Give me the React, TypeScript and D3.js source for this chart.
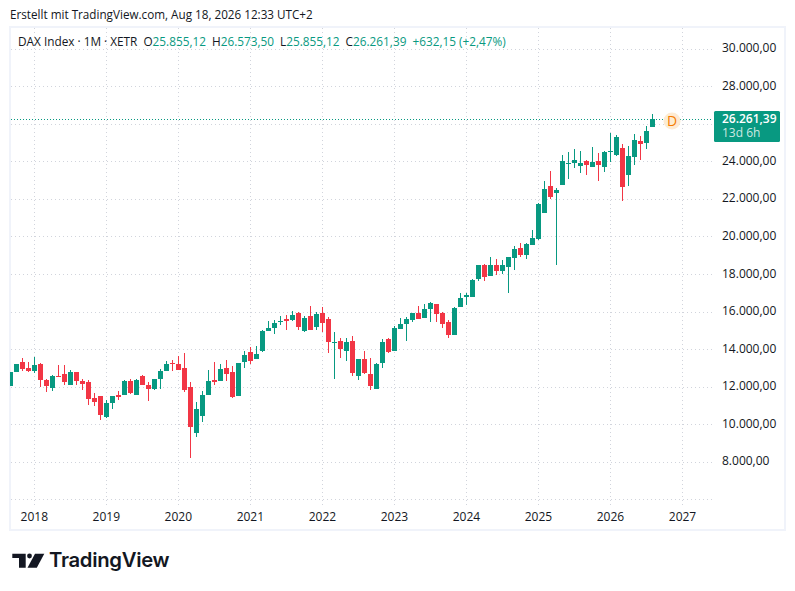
import React from "react";
import * as d3 from "d3";

// Monthly candles, Sep 2017 to Aug 2026
const startYear = 2017;
const startMonth = 8;
const opens = [12063,12808,13341,13021,12862,13234,12382,11956,12595,12702,12116,12808,12329,12276,11424,11530,10412,11157,11583,11583,
  12329,11584,12595,12116,11903,12436,12862,13288,13234,13021,12010,9560,10466,11584,12382,12329,13021,12808,11530,13341,13874,13501,
  13927,14992,15152,15471,15631,15578,15950,14992,15791,15205,15950,15631,14353,14460,13927,14460,12596,13501,12702,11904,13288,14566,13927,
  15098,15365,15578,15950,15684,16163,16430,15950,15471,14779,16270,16802,16802,17761,18506,17920,18506,18187,18400,18879,19412,19039,19571,
  19890,21275,22712,22340,22766,23902,23937,23777,24044,23724,24044,23724,24541,24363,24736,23298,24257,25109,25002,25855.12];
const highs = [12808,13234,13554,13341,13625,13288,12436,12649,13181,13181,12915,12808,12436,12382,11690,11530,11317,11530,11796,12382,
  12436,12436,12649,12276,12436,12968,13394,13447,13660,13820,12276,11211,11797,12915,13341,13234,13447,13128,13288,13927,14140,14193,
  15045,15524,15578,15791,15844,16057,16004,15791,16323,16004,16270,15737,14939,14619,14619,14726,13501,13927,13554,13288,14566,14619,15258,
  15684,15737,15950,16323,16430,16536,16430,16004,15578,16270,17015,17015,17761,18506,18560,18932,18826,18772,18932,19518,19678,19678,20370,
  21807,22979,23511,22606,24363,24523,24683,24576,24097,24789,24470,24576,25535,25428,24949,24842,25482,25375,25907,26573.5];
const lows = [12063,12808,12862,12808,12755,12010,11743,11796,12542,12116,12116,12116,11850,11051,10998,10252,10358,10838,11317,11583,
  11637,11584,12116,11264,11850,11903,12862,12862,12915,11744,8229,9347,10146,11584,12116,12329,12329,11424,11530,13021,13234,13501,
  13874,14992,14832,15311,15045,15524,15045,14939,15045,15045,14939,13821,12436,13554,13394,12596,12383,12702,11850,11904,13022,13821,13927,
  15098,14459,15471,15631,15684,15471,15471,15152,14619,14779,16270,16376,16802,17654,17654,17920,17974,18027,17015,18240,18932,18826,19571,
  19837,21275,22020,18506,22766,23085,23671,23405,23298,23724,22979,23458,23990,24310,21914,22712,23830,24097,24683,25855.12];
const closes = [12808,13234,12968,12862,13181,12382,12063,12595,12542,12276,12808,12329,12169,11370,11210,10518,11157,11530,11477,12329,
  11690,12382,12116,11903,12436,12862,13234,13234,12915,11850,9880,10838,11584,12329,12276,12968,12702,11477,13288,13714,13394,13767,
  14992,15152,15418,15524,15524,15844,15205,15684,15045,15897,15418,14406,14406,14033,14406,12755,13501,12755,12063,13235,14406,13874,15152,
  15365,15631,15950,15631,16163,16483,15897,15365,14779,16216,16749,16909,17708,18506,17867,18506,18187,18506,18932,19358,19039,19624,19944,
  21754,22553,22127,22500,24044,23937,24097,23937,23830,23990,23830,24523,24576,25322,22659,24310,25162,24949,25641,26261.39];

const yearLabels = ["2018","2019","2020","2021","2022","2023","2024","2025","2026","2027"];
const priceTicks = [30000,28000,24000,22000,20000,18000,16000,14000,12000,10000,8000];
const gridPrices = [30000,28000,26000,24000,22000,20000,18000,16000,14000,12000,10000,8000,6000];

const UP = "#089981";
const DOWN = "#F23645";
const TEXT = "#131722";
const GRID = "#d1d4dc";
const FONT = "'Open Sans', sans-serif";
const deFormat = (v: number) => d3.format(",.2f")(v).replace(/,/g, "#").replace(".", ",").replace(/#/g, ".");

export default function App() {
  const y = d3.scaleLinear().domain([8000, 26000]).range([462.3, 124.3]);
  const t = d3.scaleLinear()
    .domain([2018 * 12, 2027 * 12])
    .range([34.3, 682.5]);
  const monthX = (i: number) => t(startYear * 12 + startMonth + i);
  const crisp = (v: number) => Math.floor(v) + 0.5;
  const bodyW = 5;
  const last = closes[closes.length - 1];
  const lastY = crisp(y(last));

  return (
    <svg width={795} height={591} style={{ position: "absolute", left: 0, top: 0, background: "#fff" }} fontFamily={FONT}>
      <defs>
        <clipPath id="plot"><rect x={10} y={28} width={703} height={480} /></clipPath>
      </defs>
      <text x={10} y={19} fontSize={11.7} fill={TEXT}>Erstellt mit TradingView.com, Aug 18, 2026 12:33 UTC+2</text>
      <rect x={10} y={27} width={775} height={503} fill="#fff" stroke="#f0f3fa" strokeWidth={2} />

      <g stroke={GRID} strokeWidth={1} strokeDasharray="1 3">
        {gridPrices.map(p => <line key={p} x1={11} x2={713} y1={crisp(y(p))} y2={crisp(y(p))} />)}
        {yearLabels.map(l => <line key={l} x1={crisp(t(+l * 12))} x2={crisp(t(+l * 12))} y1={28} y2={505} />)}
      </g>

      <line x1={11} x2={713} y1={lastY} y2={lastY} stroke={UP} strokeDasharray="1 2" />

      <g clipPath="url(#plot)" shapeRendering="crispEdges">
        {opens.map((o, i) => {
          const c = closes[i];
          const col = c >= o ? UP : DOWN;
          const cx = Math.floor(monthX(i));
          const top = Math.round(y(Math.max(o, c)));
          const bot = Math.round(y(Math.min(o, c)));
          return (
            <g key={i} fill={col}>
              <rect x={cx} y={Math.round(y(highs[i]))} width={1} height={Math.max(1, Math.round(y(lows[i])) - Math.round(y(highs[i])))} />
              <rect x={cx - (bodyW - 1) / 2} y={top} width={bodyW} height={Math.max(1, bot - top)} />
            </g>
          );
        })}
      </g>

      <circle cx={672} cy={121} r={8.5} fill="#fdebd3" />
      <text x={672} y={126} textAnchor="middle" fontSize={14} fill="#f57c00">D</text>

      <g fontSize={12} fill={TEXT}>
        {priceTicks.map(p => <text key={p} x={722} y={y(p) + 3} >{deFormat(p)}</text>)}
      </g>

      <rect x={714} y={111} width={66} height={31} rx={1.5} fill={UP} />
      <text x={722} y={123} fontSize={12} fontWeight={600} fill="#fff">{deFormat(last)}</text>
      <text x={722} y={137} fontSize={12} fill="#ffffff" fillOpacity={0.8}>13d 6h</text>

      <g fontSize={12} fill={TEXT} textAnchor="middle">
        {yearLabels.map(l => <text key={l} x={t(+l * 12)} y={521}>{l}</text>)}
      </g>

      <text x={18} y={46} fontSize={11.8} fill={TEXT} xmlSpace="preserve">
        <tspan>DAX Index · 1M · XETR</tspan>
        <tspan dx={6}>O</tspan><tspan fill={UP}>{deFormat(opens[opens.length - 1])}</tspan>
        <tspan dx={6}>H</tspan><tspan fill={UP}>{deFormat(highs[highs.length - 1])}</tspan>
        <tspan dx={6}>L</tspan><tspan fill={UP}>{deFormat(lows[lows.length - 1])}</tspan>
        <tspan dx={6}>C</tspan><tspan fill={UP}>{deFormat(last)}</tspan>
        <tspan dx={6} fill={UP}>+632,15 (+2,47%)</tspan>
      </text>

      <g fill={TEXT}>
        <path d="M12.3 553.7H25.7V567.7H19V558H12.3Z" />
        <circle cx={29.5} cy={556} r={2.4} />
        <path d="M35 553.7H44.3L36.8 567.7H27.5Z" />
      </g>
      <text x={49} y={567} fontFamily="Inter, sans-serif" fontWeight={600} fontSize={20.3} fill={TEXT} letterSpacing={-0.3}>TradingView</text>
    </svg>
  );
}
